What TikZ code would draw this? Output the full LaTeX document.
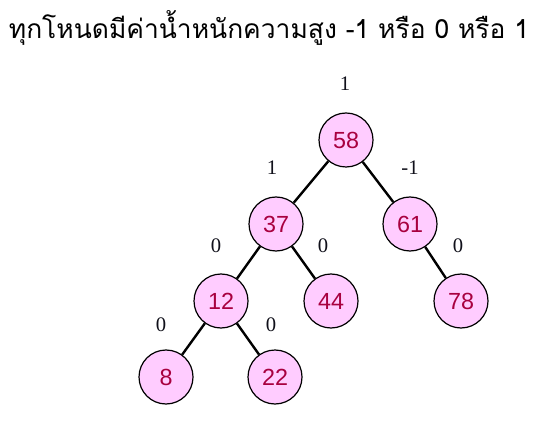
\documentclass[tikz,border=0pt]{standalone}
\usepackage{fontspec}
\setmainfont{Liberation Serif}
\newfontfamily\thaifont[Script=Thai]{Loma}
\newfontfamily\nodefont{Liberation Sans}
\definecolor{nodefill}{HTML}{FFCCFF}
\definecolor{nodetext}{HTML}{A8003F}
\definecolor{labeltext}{HTML}{10101A}
\tikzset{
  avlnode/.style={circle, draw=black, line width=0.9pt, fill=nodefill,
    minimum size=40.5pt, inner sep=0pt, text=nodetext,
    font=\nodefont\fontsize{17.5}{17.5}\selectfont},
  balance/.style={text=labeltext, font=\fontsize{15.5}{15.5}\selectfont},
  branch/.style={line width=1.8pt}
}
\begin{document}
\begin{tikzpicture}[x=0.75pt, y=-0.75pt]
\useasboundingbox (0,0) rectangle (548,423);
\node (title) at (269,28) {\thaifont\fontsize{19.8}{20}\selectfont ทุกโหนดมีค่าน้ำหนักความสูง -1 หรือ 0 หรือ 1};
% nodes
\node [avlnode] (n58) at (346,140) {58};
\node [avlnode] (n37) at (276,224) {37};
\node [avlnode] (n61) at (410,224) {61};
\node [avlnode] (n12) at (221,301) {12};
\node [avlnode] (n44) at (331,301) {44};
\node [avlnode] (n78) at (461,301) {78};
\node [avlnode] (n8) at (166,377) {8};
\node [avlnode] (n22) at (275,377) {22};
% branches
\draw [branch] (n58) -- (n37);
\draw [branch] (n58) -- (n61);
\draw [branch] (n37) -- (n12);
\draw [branch] (n37) -- (n44);
\draw [branch] (n61) -- (n78);
\draw [branch] (n12) -- (n8);
\draw [branch] (n12) -- (n22);
% balance factors
\node [balance] (b58) at (345,84) {1};
\node [balance] (b37) at (272,168) {1};
\node [balance] (b61) at (410,168) {-1};
\node [balance] (b12) at (216,246) {0};
\node [balance] (b44) at (323,246) {0};
\node [balance] (b78) at (458,246) {0};
\node [balance] (b8) at (161,325) {0};
\node [balance] (b22) at (271,325) {0};
\end{tikzpicture}
\end{document}
